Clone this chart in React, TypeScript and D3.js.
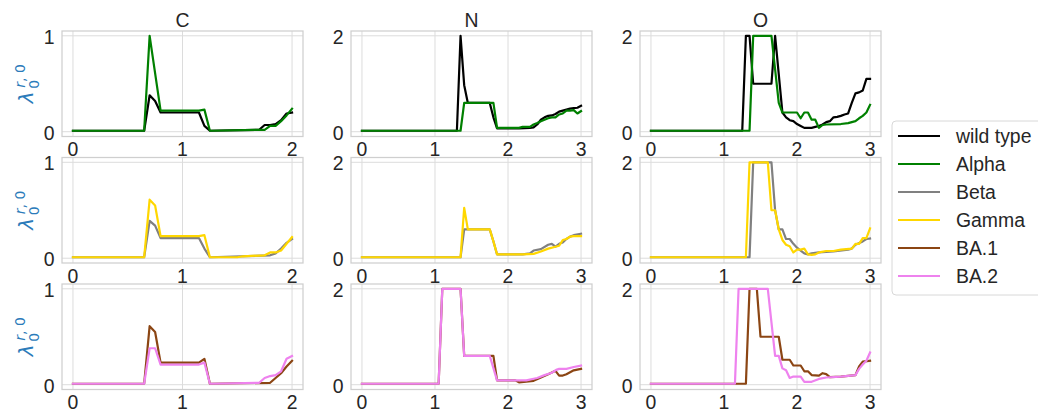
import React from "react";
import * as d3 from "d3";

type Pt = [number, number];

// ---------- data (x, value) breakpoints ----------
const wildTypeC: Pt[] = [[0,0.01],[0.65,0.01],[0.70,0.38],[0.75,0.32],[0.80,0.2],[1.15,0.2],[1.20,0.06],[1.25,0.01],[1.70,0.02],[1.75,0.07],[1.80,0.07],[1.85,0.08],[1.90,0.12],[1.95,0.19],[2.0,0.2]];
const alphaC: Pt[] = [[0,0.01],[0.65,0.01],[0.70,1.0],[0.80,0.22],[1.15,0.22],[1.20,0.23],[1.25,0.01],[1.75,0.02],[1.80,0.06],[1.85,0.06],[1.90,0.11],[1.95,0.17],[2.0,0.24]];
const betaC: Pt[] = [[0,0.01],[0.65,0.01],[0.70,0.39],[0.75,0.34],[0.80,0.21],[1.15,0.21],[1.20,0.1],[1.25,0.01],[1.80,0.03],[1.85,0.05],[1.90,0.1],[1.95,0.16],[2.0,0.2]];
const gammaC: Pt[] = [[0,0.01],[0.65,0.01],[0.70,0.61],[0.75,0.55],[0.80,0.23],[1.15,0.23],[1.20,0.24],[1.25,0.01],[1.50,0.01],[1.55,0.02],[1.75,0.03],[1.80,0.06],[1.85,0.06],[1.90,0.08],[1.95,0.15],[2.0,0.22]];
const ba1C: Pt[] = [[0,0.01],[0.65,0.01],[0.70,0.61],[0.75,0.55],[0.80,0.23],[1.15,0.23],[1.20,0.27],[1.25,0.01],[1.80,0.02],[1.85,0.07],[1.90,0.12],[1.95,0.19],[2.0,0.25]];
const ba2C: Pt[] = [[0,0.01],[0.65,0.01],[0.70,0.38],[0.75,0.38],[0.80,0.21],[1.15,0.21],[1.20,0.23],[1.25,0.01],[1.70,0.02],[1.75,0.07],[1.80,0.09],[1.85,0.1],[1.90,0.14],[1.95,0.27],[2.0,0.3]];

const wildTypeN: Pt[] = [[0,0.02],[1.30,0.02],[1.35,2.0],[1.40,0.97],[1.45,0.6],[1.75,0.6],[1.80,0.3],[1.85,0.07],[2.15,0.07],[2.30,0.08],[2.35,0.09],[2.40,0.15],[2.45,0.25],[2.50,0.3],[2.55,0.33],[2.60,0.34],[2.65,0.37],[2.70,0.42],[2.75,0.44],[2.80,0.46],[2.85,0.48],[2.90,0.49],[2.95,0.5],[3.0,0.54]];
const alphaN: Pt[] = [[0,0.02],[1.35,0.02],[1.40,0.6],[1.80,0.6],[1.85,0.08],[2.15,0.08],[2.20,0.1],[2.30,0.1],[2.35,0.15],[2.40,0.18],[2.45,0.22],[2.50,0.25],[2.55,0.28],[2.60,0.3],[2.65,0.3],[2.70,0.36],[2.75,0.38],[2.80,0.44],[2.85,0.44],[2.90,0.45],[2.95,0.38],[3.0,0.43]];
const betaN: Pt[] = [[0,0.02],[1.35,0.02],[1.40,0.6],[1.75,0.6],[1.80,0.35],[1.85,0.08],[2.20,0.08],[2.30,0.1],[2.35,0.16],[2.45,0.19],[2.55,0.28],[2.60,0.3],[2.65,0.24],[2.70,0.3],[2.75,0.33],[2.80,0.4],[2.85,0.45],[2.90,0.48],[3.0,0.51]];
const gammaN: Pt[] = [[0,0.02],[1.35,0.02],[1.40,1.05],[1.45,0.6],[1.75,0.6],[1.80,0.35],[1.85,0.08],[2.20,0.08],[2.35,0.09],[2.45,0.14],[2.55,0.2],[2.65,0.24],[2.70,0.26],[2.75,0.38],[2.80,0.4],[2.85,0.45],[2.90,0.46],[3.0,0.46]];
const ba1N: Pt[] = [[0,0.02],[1.05,0.02],[1.10,2.0],[1.35,2.0],[1.40,0.6],[1.80,0.6],[1.85,0.09],[2.10,0.09],[2.15,0.05],[2.35,0.08],[2.45,0.15],[2.55,0.22],[2.65,0.29],[2.70,0.19],[2.75,0.19],[2.80,0.22],[2.90,0.3],[3.0,0.33]];
const ba2N: Pt[] = [[0,0.02],[1.05,0.02],[1.10,2.0],[1.35,2.0],[1.40,0.6],[1.75,0.6],[1.85,0.09],[2.10,0.09],[2.25,0.09],[2.40,0.14],[2.50,0.2],[2.60,0.25],[2.66,0.31],[2.70,0.33],[2.80,0.33],[2.90,0.37],[3.0,0.4]];

const wildTypeO: Pt[] = [[0,0.02],[1.25,0.02],[1.30,2.0],[1.35,2.0],[1.40,1.0],[1.65,1.0],[1.70,2.0],[1.80,0.4],[1.85,0.3],[1.90,0.24],[1.95,0.22],[2.00,0.16],[2.05,0.12],[2.10,0.08],[2.20,0.08],[2.25,0.1],[2.30,0.12],[2.35,0.15],[2.40,0.2],[2.45,0.22],[2.50,0.3],[2.55,0.31],[2.60,0.33],[2.65,0.36],[2.70,0.38],[2.75,0.6],[2.80,0.8],[2.85,0.82],[2.90,0.86],[2.95,1.1],[3.0,1.1]];
const alphaO: Pt[] = [[0,0.02],[1.35,0.02],[1.40,2.0],[1.65,2.0],[1.70,1.3],[1.75,0.6],[1.80,0.4],[2.00,0.4],[2.05,0.28],[2.10,0.4],[2.15,0.4],[2.20,0.25],[2.25,0.25],[2.30,0.08],[2.35,0.14],[2.40,0.15],[2.60,0.16],[2.70,0.18],[2.80,0.22],[2.85,0.28],[2.90,0.33],[2.95,0.4],[3.0,0.56]];
const betaO: Pt[] = [[0,0.02],[1.35,0.02],[1.40,2.0],[1.65,2.0],[1.70,1.0],[1.75,0.6],[1.80,0.6],[1.85,0.4],[1.90,0.4],[1.95,0.3],[2.00,0.22],[2.05,0.16],[2.10,0.1],[2.15,0.08],[2.20,0.1],[2.30,0.12],[2.50,0.14],[2.70,0.18],[2.75,0.2],[2.80,0.28],[2.90,0.35],[2.95,0.4],[3.0,0.41]];
const gammaO: Pt[] = [[0,0.02],[1.30,0.02],[1.35,2.0],[1.60,2.0],[1.65,1.0],[1.70,1.0],[1.75,0.6],[1.80,0.38],[1.85,0.28],[1.90,0.25],[1.95,0.12],[2.00,0.18],[2.05,0.18],[2.10,0.2],[2.15,0.08],[2.20,0.07],[2.25,0.08],[2.30,0.12],[2.40,0.15],[2.50,0.15],[2.60,0.18],[2.75,0.2],[2.80,0.3],[2.85,0.3],[2.90,0.42],[2.95,0.42],[3.0,0.62]];
const ba1O: Pt[] = [[0,0.02],[1.30,0.02],[1.35,2.0],[1.45,2.0],[1.50,1.0],[1.75,1.0],[1.80,0.52],[1.90,0.52],[1.95,0.4],[2.05,0.4],[2.10,0.28],[2.15,0.28],[2.20,0.2],[2.30,0.19],[2.35,0.24],[2.40,0.22],[2.45,0.16],[2.60,0.17],[2.80,0.2],[2.85,0.38],[2.90,0.48],[3.0,0.5]];
const ba2O: Pt[] = [[0,0.02],[1.15,0.02],[1.20,2.0],[1.60,2.0],[1.70,0.6],[1.75,0.6],[1.80,0.34],[1.85,0.3],[1.90,0.14],[1.95,0.17],[2.05,0.17],[2.10,0.06],[2.20,0.06],[2.30,0.12],[2.40,0.15],[2.60,0.17],[2.80,0.2],[2.85,0.33],[2.90,0.42],[2.95,0.5],[3.0,0.67]];

const elements = ["C", "N", "O"];
const xMaxes = [2, 3, 3];
const yMaxes = [1, 2, 2];
const xTicksC = [0, 1, 2];
const xTicksNO = [0, 1, 2, 3];
const seriesNames = ["wild type", "Alpha", "Beta", "Gamma", "BA.1", "BA.2"];
const seriesColors = ["#000000", "#008000", "#808080", "#ffd700", "#8b4513", "#ee82ee"];

const rows: { idx: number; data: Pt[][] }[][] = [
  [ { idx: 0, data: [wildTypeC, wildTypeN, wildTypeO] }, { idx: 1, data: [alphaC, alphaN, alphaO] } ],
  [ { idx: 2, data: [betaC, betaN, betaO] }, { idx: 3, data: [gammaC, gammaN, gammaO] } ],
  [ { idx: 4, data: [ba1C, ba1N, ba1O] }, { idx: 5, data: [ba2C, ba2N, ba2O] } ],
];

// ---------- layout ----------
const W = 1038, H = 411;
const colLeft = [62, 351, 640];
const panelW = 241;
const rowTop = [31, 157.5, 284];
const panelH = 105.5;
const FONT = "'Liberation Sans', Arial, 'DejaVu Sans', sans-serif";
const FS = 19.4;
const GRID = "#dcdcdc";
const SPINE = "#cfcfcf";
const LABEL_BLUE = "#2b7bba";

function Panel({ r, c }: { r: number; c: number }) {
  const x0 = colLeft[c], y0 = rowTop[r];
  const xm = xMaxes[c], ym = yMaxes[c];
  const x = d3.scaleLinear().domain([-0.05 * xm, 1.05 * xm]).range([x0, x0 + panelW]);
  const y = d3.scaleLinear().domain([-0.05 * ym, 1.05 * ym]).range([y0 + panelH, y0]);
  const xt = c === 0 ? xTicksC : xTicksNO;
  const yt = [0, ym];
  const line = d3.line<Pt>().x((d) => x(d[0])).y((d) => y(d[1]));
  return (
    <g>
      {xt.map((t) => (
        <line key={"gx" + t} x1={x(t)} x2={x(t)} y1={y0} y2={y0 + panelH} stroke={GRID} strokeWidth={1} />
      ))}
      {yt.map((t) => (
        <line key={"gy" + t} x1={x0} x2={x0 + panelW} y1={y(t)} y2={y(t)} stroke={GRID} strokeWidth={1} />
      ))}
      <rect x={x0} y={y0} width={panelW} height={panelH} fill="none" stroke={SPINE} strokeWidth={1.25} />
      {rows[r].map((s) => (
        <path key={s.idx} d={line(s.data[c]) || ""} fill="none" stroke={seriesColors[s.idx]} strokeWidth={2.2} strokeLinejoin="round" strokeLinecap="square" />
      ))}
      {xt.map((t) => (
        <text key={"tx" + t} x={x(t)} y={y0 + panelH + 19.5} textAnchor="middle" fontSize={FS} fill="#262626" fontFamily={FONT}>{t}</text>
      ))}
      {yt.map((t) => (
        <text key={"ty" + t} x={x0 - 7.5} y={y(t) + 8} textAnchor="end" fontSize={FS} fill="#262626" fontFamily={FONT}>{t}</text>
      ))}
      {r === 0 && (
        <text x={x0 + panelW / 2} y={y0 - 4} textAnchor="middle" fontSize={FS} fill="#262626" fontFamily={FONT}>{elements[c]}</text>
      )}
      {c === 0 && (
        <g transform={`translate(33, ${y0 + panelH / 2}) rotate(-90)`} fill={LABEL_BLUE} fontFamily="'DejaVu Sans', sans-serif">
          <text x={-19.5} y={0} fontSize={20} fontStyle="italic">λ</text>
          <text x={-5} y={6} fontSize={14}>0</text>
          <text x={-4} y={-8} fontSize={14}><tspan fontStyle="italic">r</tspan>, 0</text>
        </g>
      )}
    </g>
  );
}

export default function App() {
  const lx = 892, ly = 121;
  return (
    <svg width={W} height={H} style={{ position: "absolute", left: 0, top: 0, background: "#fff" }}>
      <rect x={0} y={0} width={W} height={H} fill="#fff" />
      {[0, 1, 2].map((r) => [0, 1, 2].map((c) => <Panel key={r + "-" + c} r={r} c={c} />))}
      <rect x={lx} y={ly} width={170} height={174} rx={4} fill="#fff" stroke="#d8d8d8" strokeWidth={1} />
      {seriesNames.map((n, i) => (
        <g key={n}>
          <line x1={898} x2={940} y1={136 + i * 28} y2={136 + i * 28} stroke={seriesColors[i]} strokeWidth={2.2} />
          <text x={956} y={136 + i * 28 + 6.8} fontSize={FS} fill="#262626" fontFamily={FONT}>{n}</text>
        </g>
      ))}
    </svg>
  );
}
